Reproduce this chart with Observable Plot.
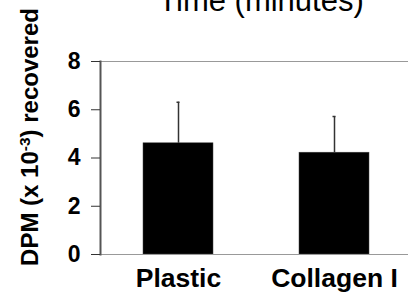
<!DOCTYPE html>
<html><head><meta charset="utf-8">
<script src="https://cdn.jsdelivr.net/npm/d3@7"></script>
<script src="https://cdn.jsdelivr.net/npm/@observablehq/plot@0.6"></script>
<style>body{margin:0;background:#fff} svg{display:block}</style>
</head><body><div id="chart"></div>
<script>
const categories = ["Plastic", "Collagen I"];
const means = [4.61, 4.22];
const errors = [1.7, 1.5];
const yTicks = [0, 2, 4, 6, 8];
const yLabel = "DPM (x 10-3) recovered";
const title = "Time (minutes)";
const data = categories.map((c, i) => ({cat: c, mean: means[i], top: means[i] + errors[i]}));
const font = "'Liberation Sans', Arial, Helvetica, sans-serif";
const chart = Plot.plot({
  width: 408, height: 292, marginLeft: 100, marginRight: 0, marginTop: 61, marginBottom: 38,
  style: {fontFamily: font, background: "#fff", color: "#000", overflow: "visible"},
  x: {domain: categories, paddingInner: 0.553, paddingOuter: 0.26, align: 0.527},
  y: {domain: [0, 8], ticks: yTicks},
  marks: [
    Plot.ruleY([8], {stroke: "#999", strokeWidth: 1}),
    Plot.barY(data, {x: "cat", y: "mean", fill: "#000", stroke: "#444", strokeWidth: 0.5}),
    Plot.ruleX(data, {x: "cat", y1: "mean", y2: "top", stroke: "#333", strokeWidth: 1.5}),
    Plot.tickY(data, {x: "cat", y: "top", stroke: "#333", strokeWidth: 1.5, insetLeft: 33.5, insetRight: 33.5}),
    Plot.ruleY([0], {stroke: "#999", strokeWidth: 1}),
    Plot.frame({anchor: "left", stroke: "#555", strokeWidth: 2}),
    Plot.axisY({ticks: yTicks, tickSize: 9, tickPadding: 11, fontSize: 23, fontWeight: "bold", label: null, stroke: "#333", fill: "#000"}),
    Plot.axisX({tickSize: 0, tickPadding: 14, fontSize: 26.5, fontWeight: "bold", label: null, fill: "#000"}),
    Plot.text([yLabel], {text: d => d, frameAnchor: "left", rotate: -90, dx: -63, dy: -21, fontSize: 24, fontWeight: "bold", lineAnchor: "bottom", textAnchor: "middle", fill: "#000"}),
    Plot.text([title], {text: d => d, frameAnchor: "top", dx: 6.5, dy: -51, fontSize: 31, lineAnchor: "bottom", fill: "#000"})
  ]
});
d3.select(chart).selectAll("text").filter(function () { return this.textContent === yLabel; }).each(function () {
  const t = d3.select(this);
  t.text(null);
  t.append("tspan").text("DPM (x 10");
  t.append("tspan").attr("dy", -8).attr("font-size", 15.5).text("-3");
  t.append("tspan").attr("dy", 8).text(") recovered");
});
document.getElementById("chart").appendChild(chart);
</script>
</body></html>
